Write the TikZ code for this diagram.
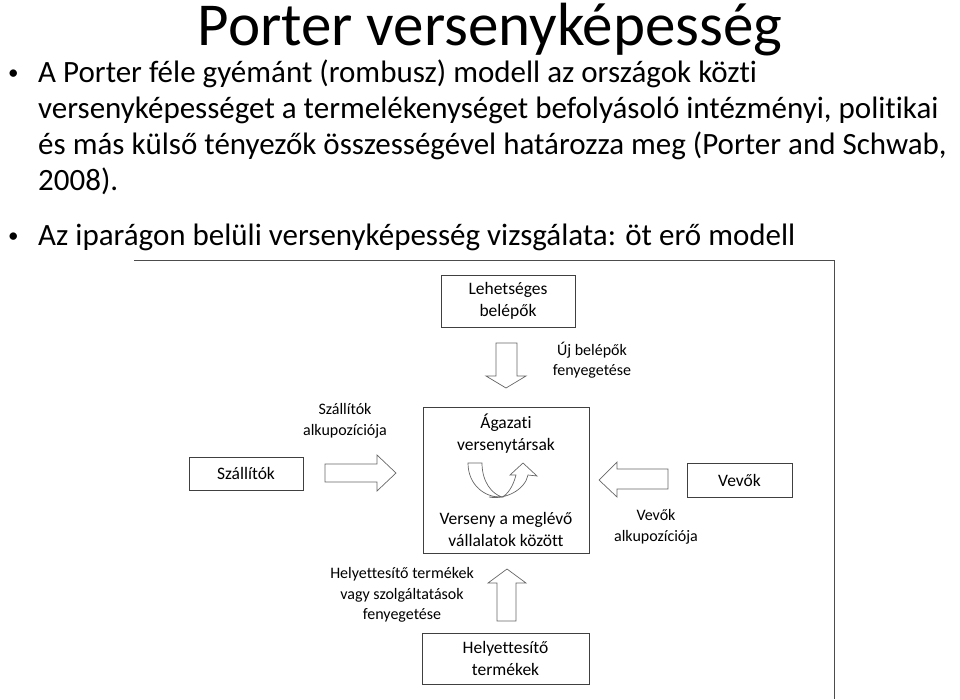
\documentclass[tikz,border=0pt]{standalone}
\usepackage{fontspec}
\setmainfont{Carlito}[Ligatures={NoCommon}]

\begin{document}
\begin{tikzpicture}[x=1pt,y=-1pt,
	box/.style={draw=black!75, line width=0.8pt, align=center, inner sep=0pt, font=\fontsize{17.5}{22}\selectfont},
	lbl/.style={align=center, inner sep=0pt, font=\fontsize{16}{20.5}\selectfont},
	blockarrow/.style={draw=black!60, line width=0.7pt, line join=miter},
	sor/.style={anchor=base west, inner sep=0pt, font=\fontsize{31}{36}\selectfont},
	pont/.style={anchor=base west, inner sep=0pt, font=\fontsize{21}{24}\selectfont}]

	\useasboundingbox (0,0) rectangle (960,699);

	% title and bullets
	\node[anchor=base, inner sep=0pt, font=\fontsize{61}{66}\selectfont] (cim) at (490,45) {Porter versenyképesség};

	\node[pont] (pont1) at (8,79) {•};
	\node[sor] (sor1) at (38,82) {A Porter féle gyémánt (rombusz) modell az országok közti};
	\node[sor] (sor2) at (38,118) {versenyképességet a termelékenységet befolyásoló intézményi, politikai};
	\node[sor] (sor3) at (38,154) {és más külső tényezők összességével határozza meg (Porter and Schwab,};
	\node[sor] (sor4) at (38,190) {2008).};
	\node[pont] (pont2) at (8,242) {•};
	\node[sor] (sor5) at (38,245) {Az iparágon belüli versenyképesség vizsgálata: öt erő modell};

	% frame of the figure
	\draw[black!70, line width=1pt] (134,260) -- (834,260) -- (834,699);

	% the five forces
	\node[box, minimum width=134, minimum height=52] (belepok) at (508,301) {Lehetséges\\belépők};
	\node[box, minimum width=166, minimum height=146] (agazat) at (506,480) {};
	\node[box, minimum width=114, minimum height=33] (szallitok) at (246,473.5) {Szállítók};
	\node[box, minimum width=105, minimum height=34] (vevok) at (739.5,480) {Vevők};
	\node[box, minimum width=167, minimum height=51] (helyettesito) at (505.5,658.5) {Helyettesítő\\termékek};

	\node[lbl, font=\fontsize{17.5}{22}\selectfont] (versenytarsak) at (506,434) {Ágazati\\versenytársak};
	\node[lbl, font=\fontsize{17.5}{22}\selectfont] (verseny) at (506,529) {Verseny a meglévő\\vállalatok között};

	\node[lbl] (ujbelepok) at (592,360) {Új belépők\\fenyegetése};
	\node[lbl] (szallalku) at (345,421) {Szállítók\\alkupozíciója};
	\node[lbl] (vevoalku) at (656,527) {Vevők\\alkupozíciója};
	\node[lbl] (helyalku) at (402,595) {Helyettesítő termékek\\vagy szolgáltatások\\fenyegetése};

	% block arrows
	\draw[blockarrow] (496,343) -- (517,343) -- (517,376) -- (526,376) -- (506,388) -- (486,376) -- (496,376) -- cycle;
	\draw[blockarrow] (325,464) -- (377,464) -- (377,455) -- (396,473) -- (377,491) -- (377,482) -- (325,482) -- cycle;
	\draw[blockarrow] (668,469) -- (617,469) -- (617,462) -- (599,480) -- (617,497) -- (617,489) -- (668,489) -- cycle;
	\draw[blockarrow] (497,621) -- (497,583) -- (488,583) -- (507,569) -- (526,583) -- (516,583) -- (516,621) -- cycle;

	% curved arrows inside
	\draw[blockarrow] (468,463) -- (482,463) .. controls (482,482) and (492,494) .. (502,497)
		.. controls (485,498) and (468,485) .. (468,463) -- cycle;
	\draw[blockarrow] (489,497) .. controls (505,500) and (525,490) .. (528,475) -- (537,476) -- (523,463)
		-- (510,475) -- (516,475) .. controls (513,487) and (507,495) .. (502,497) -- cycle;

\end{tikzpicture}
\end{document}
